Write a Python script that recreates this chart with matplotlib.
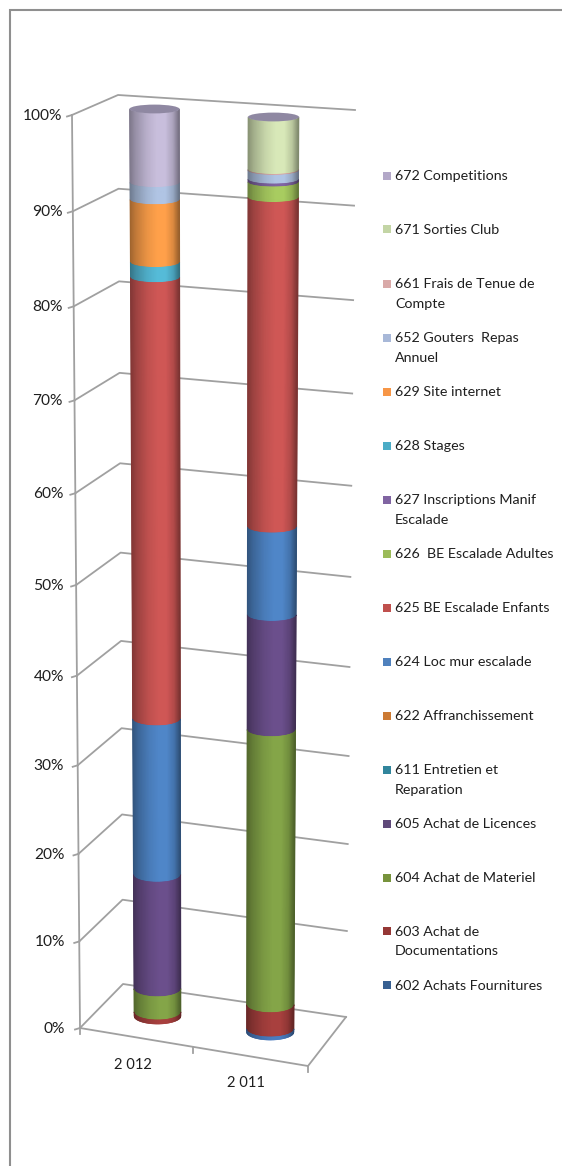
import numpy as np
import matplotlib
matplotlib.use("Agg")
import matplotlib.pyplot as plt
from matplotlib.collections import PolyCollection
from matplotlib.patches import Ellipse, Rectangle

# ---------- data ----------
categories = ["2 012", "2 011"]
series_names = ["602 Achats Fournitures", "603 Achat de\nDocumentations", "604 Achat de Materiel",
                "605 Achat de Licences", "611 Entretien et\nReparation", "622 Affranchissement",
                "624 Loc mur escalade", "625 BE Escalade Enfants", "626  BE Escalade Adultes",
                "627 Inscriptions Manif\nEscalade", "628 Stages", "629 Site internet",
                "652 Gouters  Repas\nAnnuel", "661 Frais de Tenue de\nCompte", "671 Sorties Club",
                "672 Competitions"]
values_2012 = [0, 0.47, 2.7, 13.2, 0, 0, 17.7, 48.25, 0, 0, 1.6, 6.6, 1.8, 0, 0, 7.7]
values_2011 = [0.35, 2.8, 31.2, 12.7, 0, 0, 9.6, 35.0, 1.6, 0.3, 0, 0, 0.9, 0.1, 5.45, 0]
value_ticks = [0, 10, 20, 30, 40, 50, 60, 70, 80, 90, 100]

swatch_colors = ["#376092", "#953735", "#77933c", "#5f497a", "#31859c", "#cc7a33",
                 "#4f81bd", "#c0504d", "#9bbb59", "#8064a2", "#4bacc6", "#f79646",
                 "#a8b8d8", "#d9a9a8", "#c3d5a5", "#b3a8c8"]
body_colors = ["#4a7cc0", "#a8403e", "#84a548", "#6b4f8c", "#3a9ab5", "#d98a3c",
               "#4f86c8", "#cf5755", "#a8cc60", "#8064a2", "#55bbd8", "#ffa04a",
               "#b0c4e4", "#d9a9a8", "#d8e8b8", "#c8bedc"]

# ---------- layout: pixel frame of the 3D box ----------
W, H = 562, 1166
PERSP = -0.0574
GRID = "#a0a0a0"
TXT = "#1f1f1f"
FONT = "Lato"

def proj(p0, p1, frac):
    """Perspective interpolation between the 0% and 100% positions."""
    return (p0 * (1 - frac) + p1 * (1 + PERSP) * frac) / (1 + PERSP * frac)

FRONT_L = ((80, 1028), (72, 115))
BACK_L = ((123, 984), (118, 95))
BACK_R = ((346, 1017), (355, 110))
FRONT_R = (308, 1066)
LABEL_X = (65, 62)

# per-column geometry: left and right x at base and top, centre y at base and top
COLS = [dict(l=(134, 129.5), r=(181, 179.5), y=(1016, 109)),
        dict(l=(246.5, 248), r=(294, 299), y=(1032, 117))]
HH = (8, 4.4)

fig = plt.figure(figsize=(W / 100, H / 100), dpi=100, facecolor="white")
ax = fig.add_axes([0, 0, 1, 1])
ax.set_xlim(0, W)
ax.set_ylim(H, 0)
ax.axis("off")

# outer frame
ax.plot([9.5, 9.5, W], [H, 10, 10], color="#8f8f8f", lw=1.5, solid_joinstyle="miter")

# walls and gridlines
for t in value_ticks:
    f = t / 100
    pts = [FRONT_L, BACK_L, BACK_R]
    xs = [proj(p[0][0], p[1][0], f) for p in pts]
    ys = [proj(p[0][1], p[1][1], f) for p in pts]
    ax.plot(xs, ys, color=GRID, lw=1.3, zorder=1)
    ax.plot([xs[0] - 5, xs[0]], [ys[0] + 1.5, ys[0]], color=GRID, lw=1.3, zorder=1)
    ax.text(proj(*LABEL_X, f), ys[0] + 1, f"{t}%", ha="right", va="center",
            fontsize=11.2, family=FONT, color=TXT)
ax.plot([FRONT_L[0][0], FRONT_L[1][0]], [FRONT_L[0][1], FRONT_L[1][1]], color=GRID, lw=1.3, zorder=1)

# floor
ax.plot([FRONT_L[0][0], FRONT_R[0], BACK_R[0][0]], [FRONT_L[0][1], FRONT_R[1], BACK_R[0][1]],
        color=GRID, lw=1.3, zorder=1)
for x, y in [FRONT_L[0], ((FRONT_L[0][0] + FRONT_R[0]) / 2 - 1, (FRONT_L[0][1] + FRONT_R[1]) / 2 + 0), FRONT_R]:
    ax.plot([x, x], [y, y + 6], color=GRID, lw=1.3, zorder=1)
for label, x, y in zip(categories, (132.5, 246), (1065, 1083)):
    ax.text(x, y, label, ha="center", va="center", fontsize=10.6, family=FONT, color=TXT)

# cylinders: each section is a fan of thin vertical strips shaded across the width
SHADE_U = [-1.0, -0.75, -0.3, 0.1, 0.45, 0.75, 1.0]
SHADE_K = [0.62, 0.76, 0.92, 1.0, 1.0, 0.86, 0.58]
u = np.linspace(-1, 1, 81)
uc = (u[:-1] + u[1:]) / 2
shade = np.interp(uc, SHADE_U, SHADE_K)

def rim(col, f):
    left, right = proj(*col["l"], f), proj(*col["r"], f)
    cx, hw = (left + right) / 2, (right - left) / 2
    return cx + hw * u, proj(*col["y"], f) + proj(*HH, f) * np.sqrt(np.clip(1 - u ** 2, 0, 1))

def cylinder_section(col, f0, f1, color):
    x0, y0 = rim(col, f0)
    x1, y1 = rim(col, f1)
    verts = [[(x1[j], y1[j]), (x1[j + 1], y1[j + 1]), (x0[j + 1], y0[j + 1]), (x0[j], y0[j])]
             for j in range(len(uc))]
    rgb = np.array(matplotlib.colors.to_rgb(color))
    cols = np.clip(shade[:, None] * rgb[None, :], 0, 1)
    pc = PolyCollection(verts, facecolors=cols, edgecolors=cols, linewidths=0.45, zorder=3)
    pc.set_snap(False)
    ax.add_collection(pc)

for col, vals in zip(COLS, (values_2012, values_2011)):
    cum = np.concatenate([[0], np.cumsum(vals)]) / sum(vals)
    for i in range(len(vals) - 1, -1, -1):
        if vals[i] > 0:
            cylinder_section(col, cum[i], cum[i + 1], body_colors[i])
    xl, xr = col["l"][1], col["r"][1]
    ax.add_patch(Ellipse(((xl + xr) / 2, col["y"][1]), xr - xl, 2 * HH[1],
                         facecolor="#8f88a2", edgecolor="none", zorder=4))

# legend (as laid out on the right)
legend_rows = [985, 931, 878, 824, 770, 716, 662, 608, 554, 500, 446, 392, 338, 284, 229, 176]
for name, color, y in zip(series_names, swatch_colors, legend_rows):
    ax.add_patch(Rectangle((383, y - 4), 8, 8, facecolor=color, edgecolor="none", zorder=3))
    ax.text(395, y - 5.5, name, ha="left", va="top", fontsize=10.3, family=FONT, color=TXT,
            linespacing=1.72)

fig.savefig("out.png", dpi=100, facecolor="white")
